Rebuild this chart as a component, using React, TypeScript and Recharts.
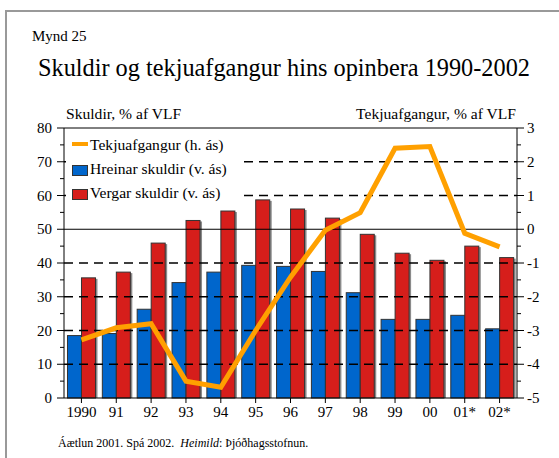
import React from 'react';
import {
  ComposedChart,
  Bar,
  Line,
  XAxis,
  YAxis,
  ReferenceLine,
} from 'recharts';

const years = ['1990', '91', '92', '93', '94', '95', '96', '97', '98', '99', '00', '01*', '02*'];
const netDebt = [18.5, 19.1, 26.3, 34.2, 37.3, 39.3, 39.0, 37.5, 31.2, 23.3, 23.3, 24.5, 20.5];
const grossDebt = [35.6, 37.3, 45.9, 52.6, 55.4, 58.7, 56.0, 53.3, 48.5, 42.9, 40.8, 45.0, 41.6];
const surplus = [-3.28, -2.92, -2.8, -4.5, -4.68, -3.0, -1.42, -0.03, 0.49, 2.4, 2.45, -0.12, -0.52];

const leftTicks = [0, 5, 10, 15, 20, 25, 30, 35, 40, 45, 50, 55, 60, 65, 70, 75, 80];
const rightTicks = [-5, -4.5, -4, -3.5, -3, -2.5, -2, -1.5, -1, -0.5, 0, 0.5, 1, 1.5, 2, 2.5, 3];
const dashedLevels = [10, 20, 30, 40, 60, 70];

const data = years.map((year, i) => ({
  year,
  net: netDebt[i],
  gross: grossDebt[i],
  surplus: surplus[i],
}));

const FONT = '"Liberation Serif", "Times New Roman", serif';

const LeftTick = (props: any) => {
  const { x, y, payload } = props;
  const v = payload.value;
  const major = v % 10 === 0;
  return (
    <g>
      <line x1={x} x2={x - (major ? 7 : 4)} y1={y} y2={y} stroke="#000" strokeWidth={1} />
      {major && (
        <text x={x - 12} y={y} dy={5} textAnchor="end" fontSize={15} fontFamily={FONT} fill="#000">
          {v}
        </text>
      )}
    </g>
  );
};

const RightTick = (props: any) => {
  const { x, y, payload } = props;
  const v = payload.value;
  const major = Number.isInteger(v);
  return (
    <g>
      <line x1={x} x2={x + (major ? 7 : 4)} y1={y} y2={y} stroke="#000" strokeWidth={1} />
      {major && (
        <text x={x + 10} y={y} dy={5} textAnchor="start" fontSize={15} fontFamily={FONT} fill="#000">
          {v}
        </text>
      )}
    </g>
  );
};

const ShadowBar = (props: any) => {
  const { x, y, width, height, fill } = props;
  if (!height || height <= 0) return null;
  return (
    <g>
      <rect x={x + 2} y={y + 1} width={width} height={height - 1} fill="#8a8a8a" />
      <rect x={x} y={y} width={width} height={height} fill={fill} stroke="#333" strokeWidth={1} />
    </g>
  );
};

const abs = (left: number, top: number, extra: React.CSSProperties = {}): React.CSSProperties => ({
  position: 'absolute',
  left,
  top,
  fontFamily: FONT,
  color: '#000',
  whiteSpace: 'nowrap',
  lineHeight: 1,
  ...extra,
});

export default function App() {
  return (
    <div style={{ position: 'absolute', left: 0, top: 0, width: 559, height: 458, background: '#fff', overflow: 'hidden' }}>
      <div style={{ position: 'absolute', left: 5, top: 10, width: 560, height: 460, borderLeft: '2px solid #999', borderTop: '2px solid #999' }} />
      <div style={abs(32, 29, { fontSize: 15 })}>Mynd 25</div>
      <div style={abs(38, 56, { fontSize: 24.3 })}>Skuldir og tekjuafgangur hins opinbera 1990-2002</div>
      <div style={abs(66, 106, { fontSize: 15.6 })}>Skuldir, % af VLF</div>
      <div style={abs(296, 106, { fontSize: 15.6, width: 220, textAlign: 'right' })}>Tekjuafgangur, % af VLF</div>
      <div style={{ position: 'absolute', left: 0, top: 0 }}>
        <ComposedChart
          width={559}
          height={458}
          data={data}
          margin={{ top: 128, right: 2, bottom: 30, left: 4 }}
          barCategoryGap="10%"
          barGap={0}
        >
          <XAxis
            dataKey="year"
            stroke="#000"
            height={30}
            tickSize={5}
            tickMargin={3}
            tick={{ fill: '#000', fontSize: 15, fontFamily: FONT }}
            interval={0}
          />
          <YAxis
            yAxisId="left"
            orientation="left"
            domain={[0, 80]}
            ticks={leftTicks}
            width={60}
            tickSize={0}
            tickMargin={0}
            tickLine={false}
            tick={<LeftTick />}
            axisLine={{ stroke: '#000' }}
            interval={0}
          />
          <YAxis
            yAxisId="right"
            orientation="right"
            domain={[-5, 3]}
            ticks={rightTicks}
            width={40}
            tickSize={0}
            tickMargin={0}
            tickLine={false}
            tick={<RightTick />}
            axisLine={{ stroke: '#000' }}
            interval={0}
          />
          {dashedLevels.map((lv) => (
            <ReferenceLine key={lv} yAxisId="left" y={lv} stroke="#000" strokeWidth={1.5} strokeDasharray="9 6" />
          ))}
          <ReferenceLine yAxisId="left" y={50} stroke="#000" strokeWidth={1} />
          <ReferenceLine yAxisId="left" y={80} stroke="#000" strokeWidth={1} />
          <Bar yAxisId="left" dataKey="net" fill="#0066CC" shape={<ShadowBar />} isAnimationActive={false} />
          <Bar yAxisId="left" dataKey="gross" fill="#D61E1B" shape={<ShadowBar />} isAnimationActive={false} />
          <Line
            yAxisId="right"
            type="linear"
            dataKey="surplus"
            stroke="#FFA000"
            strokeWidth={5}
            dot={false}
            isAnimationActive={false}
          />
        </ComposedChart>
      </div>
      <div style={{ position: 'absolute', left: 66, top: 133, width: 172, height: 74, background: '#fff' }}>
        <div style={abs(6, 9, { width: 16, height: 4, background: '#FFA000' })} />
        <div style={abs(24, 4, { fontSize: 15.6 })}>Tekjuafgangur (h. ás)</div>
        <div style={abs(6, 32, { width: 14, height: 9, background: '#0066CC', border: '1px solid #333' })} />
        <div style={abs(24, 28, { fontSize: 15.6 })}>Hreinar skuldir (v. ás)</div>
        <div style={abs(6, 56, { width: 14, height: 9, background: '#D61E1B', border: '1px solid #333' })} />
        <div style={abs(24, 52, { fontSize: 15.6 })}>Vergar skuldir (v. ás)</div>
      </div>
      <div style={abs(58, 437, { fontSize: 12 })}>
        Áætlun 2001. Spá 2002.&nbsp;&nbsp;<i>Heimild</i>: Þjóðhagsstofnun.
      </div>
    </div>
  );
}
